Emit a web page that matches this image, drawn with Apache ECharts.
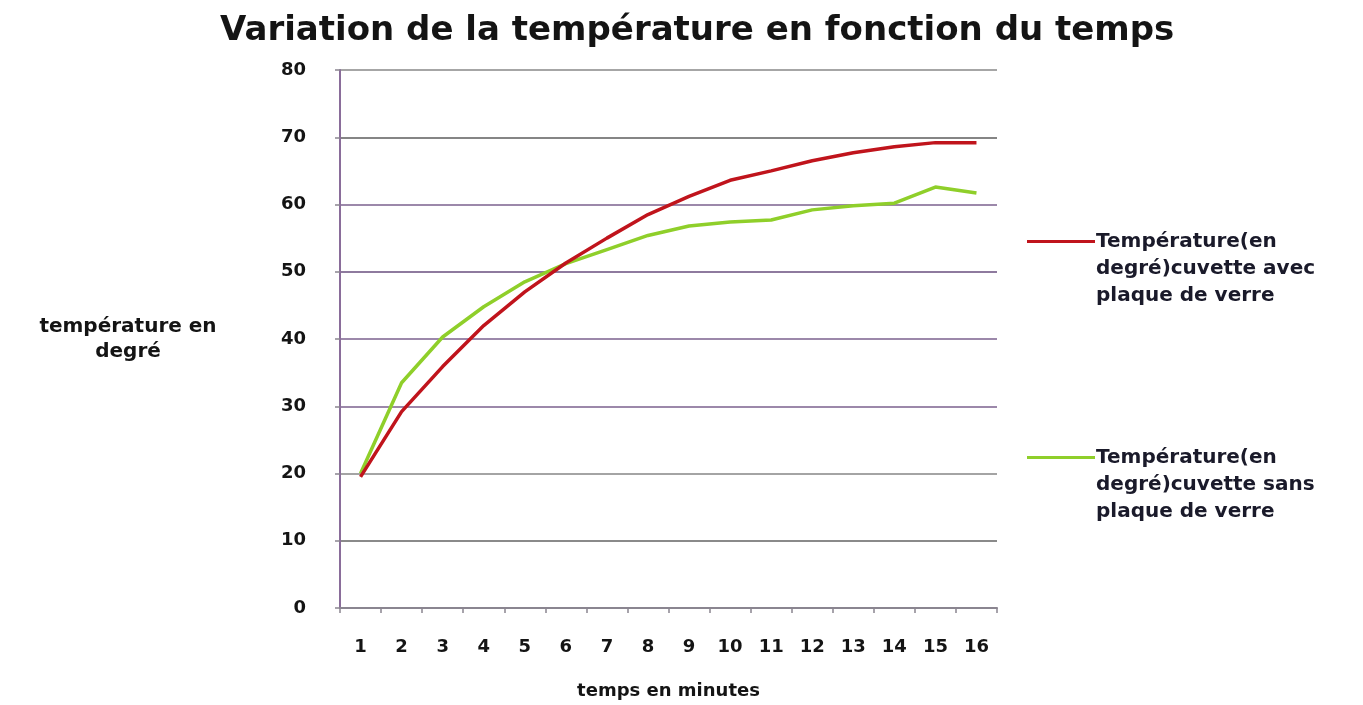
<!DOCTYPE html>
<html>
<head>
<meta charset="utf-8">
<style>
  html, body { margin: 0; padding: 0; background: #ffffff; }
  #chart { width: 1363px; height: 705px; }
</style>
<script src="https://cdn.jsdelivr.net/npm/echarts@6/dist/echarts.min.js"></script>
</head>
<body>
<div id="chart"></div>
<script>
// Temps en minutes
const minutes = ['1', '2', '3', '4', '5', '6', '7', '8', '9', '10', '11', '12', '13', '14', '15', '16'];

// Température (°C) — cuvette avec plaque de verre
const avecPlaque = [19.5, 29.2, 35.9, 42.0, 47.0, 51.3, 55.0, 58.5, 61.2, 63.6, 65.0, 66.5, 67.7, 68.6, 69.2, 69.2];

// Température (°C) — cuvette sans plaque de verre
const sansPlaque = [20.0, 33.5, 40.3, 44.8, 48.5, 51.2, 53.3, 55.4, 56.8, 57.4, 57.7, 59.2, 59.8, 60.2, 62.6, 61.7];

const seriesNames = [
  'Température(en degré)cuvette avec plaque de verre',
  'Température(en degré)cuvette sans plaque de verre'
];
// Legend text, wrapped over three lines
const legendLines = [
  ['Température(en', 'degré)cuvette avec', 'plaque de verre'],
  ['Température(en', 'degré)cuvette sans', 'plaque de verre']
];

const FONT = 'DejaVu Sans';
const TEXT = '#141414';

// grid line colours, one per tick from 0 to 80
const gridColors = ['#8a8590', '#8a8a8a', '#a4a4a4', '#9c88aa', '#9c88aa', '#8e7a9e', '#9c88aa', '#858585', '#a6a6a6'];

const chart = echarts.init(document.getElementById('chart'));

function legendFor(i, top) {
  return {
    orient: 'vertical',
    left: 1022,
    top: top,
    data: [seriesNames[i]],
    icon: 'rect',
    itemWidth: 68,
    itemHeight: 3,
    itemGap: 0,
    selectedMode: false,
    // two blank lines first so the line symbol sits beside the first text line
    formatter: function () { return '\n\n' + legendLines[i].join('\n'); },
    textStyle: { fontFamily: FONT, fontSize: 20, fontWeight: 'bold', color: '#1a1a2a', lineHeight: 27, padding: [0, 0, 0, -4] }
  };
}

chart.setOption({
  backgroundColor: '#ffffff',
  animation: false,
  textStyle: { fontFamily: FONT },
  title: {
    text: 'Variation de la température en fonction du temps',
    left: 220,
    top: 14,
    padding: 0,
    textStyle: { fontFamily: FONT, fontSize: 34, fontWeight: 'bold', color: TEXT }
  },
  legend: [legendFor(0, 169), legendFor(1, 385)],
  grid: { left: 340, right: 366, top: 70, bottom: 95, containLabel: false },
  xAxis: {
    type: 'category',
    data: minutes,
    boundaryGap: true,
    name: 'temps en minutes',
    nameLocation: 'middle',
    nameGap: 74,
    nameTextStyle: { fontFamily: FONT, fontSize: 18, fontWeight: 'bold', color: TEXT },
    axisLine: { show: true, lineStyle: { color: '#8a8590', width: 2 } },
    axisTick: { show: true, alignWithLabel: false, length: 5, lineStyle: { color: '#8a8590', width: 1.5 } },
    axisLabel: { margin: 30, fontFamily: FONT, fontSize: 18, fontWeight: 'bold', color: TEXT, interval: 0 },
    splitLine: { show: false }
  },
  yAxis: {
    type: 'value',
    min: 0,
    max: 80,
    interval: 10,
    name: 'température en\ndegré',
    nameLocation: 'middle',
    nameRotate: 0,
    nameGap: 212,
    nameTextStyle: { fontFamily: FONT, fontSize: 20, fontWeight: 'bold', color: TEXT, align: 'center', lineHeight: 25 },
    axisLine: { show: true, lineStyle: { color: '#8a6d9a', width: 2 } },
    axisTick: { show: true, length: 5, lineStyle: { color: '#8a8590', width: 1.5 } },
    axisLabel: { margin: 34, fontFamily: FONT, fontSize: 18, fontWeight: 'bold', color: TEXT },
    splitLine: { show: true, lineStyle: { color: gridColors, width: 2 } }
  },
  series: [
    {
      name: seriesNames[0],
      type: 'line',
      data: avecPlaque,
      symbol: 'none',
      smooth: false,
      lineStyle: { color: '#c0141c', width: 3.5 },
      itemStyle: { color: '#c0141c' },
      z: 3
    },
    {
      name: seriesNames[1],
      type: 'line',
      data: sansPlaque,
      symbol: 'none',
      smooth: false,
      lineStyle: { color: '#8fcf2a', width: 3.5 },
      itemStyle: { color: '#8fcf2a' },
      z: 2
    }
  ]
});
</script>
</body>
</html>
